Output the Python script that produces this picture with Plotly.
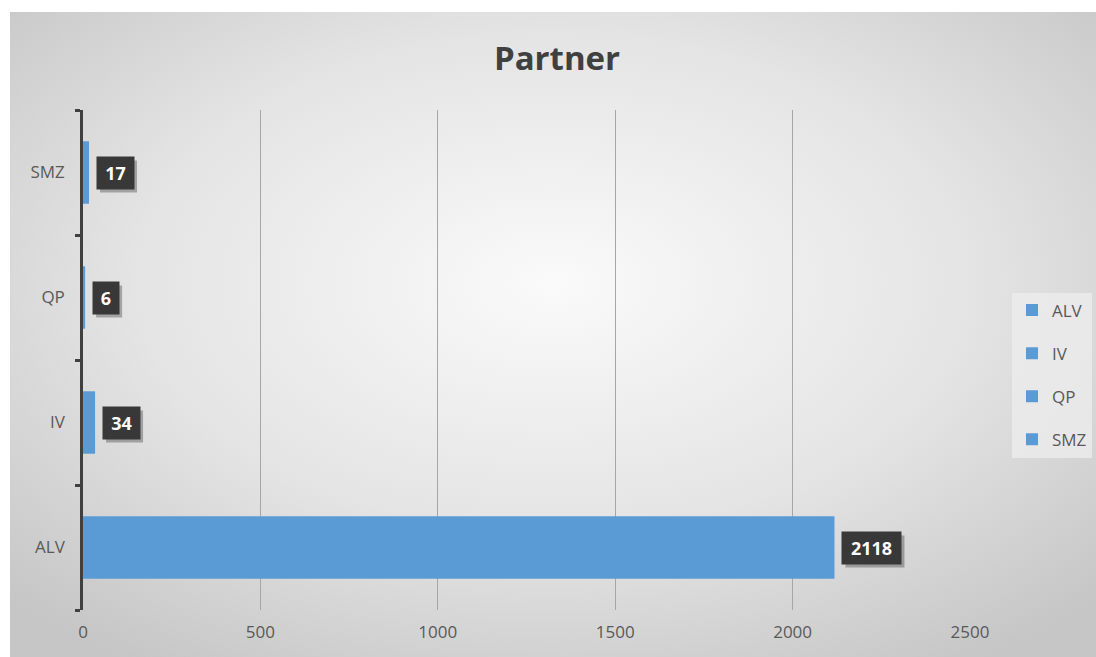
import base64
import plotly.graph_objects as go

# Partner counts
categories = ["ALV", "IV", "QP", "SMZ"]
values = [2118, 34, 6, 17]
x_ticks = [0, 500, 1000, 1500, 2000, 2500]

BAR_COLOR = "#5b9bd5"
TEXT_COLOR = "#595959"
FONT = "Open Sans"

W, H = 1096, 657
PLOT_L, PLOT_R, PLOT_T, PLOT_B = 83, 970, 110, 610
pw, ph = PLOT_R - PLOT_L, PLOT_B - PLOT_T

fig = go.Figure()
for cat, val in zip(categories, values):
    fig.add_trace(go.Bar(
        x=[val], y=[cat], orientation="h", name=cat,
        marker=dict(color=BAR_COLOR, line=dict(width=0)),
        width=0.5, legendgroup=cat, showlegend=True,
    ))

# value callouts: dark boxes with a soft drop shadow
GAP, PAD, BOX_H = 7, 6, 20
for cat, val in zip(categories, values):
    txt = str(val)
    inner_w = 11 * len(txt) + 3
    box_w = inner_w + 2 * PAD
    box_h = BOX_H + 2 * PAD
    fig.add_shape(
        type="rect", xref="x", yref="y",
        xsizemode="pixel", ysizemode="pixel", xanchor=val, yanchor=cat,
        x0=GAP + 4, x1=GAP + 4 + box_w, y0=-box_h / 2 - 4, y1=box_h / 2 - 4,
        fillcolor="rgba(0,0,0,0.28)", line=dict(width=0), layer="above",
    )
    fig.add_annotation(
        x=val, y=cat, xref="x", yref="y", text=f"<b>{txt}</b>",
        showarrow=False, xanchor="left", xshift=GAP,
        width=inner_w, height=BOX_H, align="center", valign="middle",
        font=dict(family=FONT, size=18, color="white"),
        bgcolor="#383838", borderpad=PAD,
    )

# soft radial background for the chart area
svg = (
    '<svg xmlns="http://www.w3.org/2000/svg" width="1086" height="645" '
    'preserveAspectRatio="none" viewBox="0 0 1086 645">'
    '<defs><radialGradient id="g" cx="50%" cy="42%" r="70%">'
    '<stop offset="0%" stop-color="#fafafa"/>'
    '<stop offset="55%" stop-color="#e4e4e4"/>'
    '<stop offset="100%" stop-color="#c6c6c6"/>'
    '</radialGradient></defs>'
    '<rect width="1086" height="645" fill="url(#g)"/></svg>'
)
src = "data:image/svg+xml;base64," + base64.b64encode(svg.encode()).decode()
fig.add_layout_image(
    source=src, xref="paper", yref="paper",
    x=(10 - PLOT_L) / pw, y=(PLOT_B - 12) / ph,
    sizex=(W - 10) / pw, sizey=(H - 12) / ph,
    xanchor="left", yanchor="top", sizing="stretch", layer="below",
)

fig.update_layout(
    width=W, height=H,
    margin=dict(l=PLOT_L, r=W - PLOT_R, t=PLOT_T, b=H - PLOT_B, autoexpand=False),
    paper_bgcolor="white", plot_bgcolor="rgba(0,0,0,0)",
    barmode="overlay",
    font=dict(family=FONT, color=TEXT_COLOR, size=17),
    title=dict(
        text="<b>Partner</b>", x=557 / W, xanchor="center",
        y=1 - 58 / H, yanchor="middle",
        font=dict(family=FONT, size=33, color="#404040"),
    ),
    xaxis=dict(
        range=[0, 2500], tickvals=x_ticks, ticktext=[str(t) for t in x_ticks],
        showgrid=True, gridcolor="#a6a6a6", gridwidth=1,
        zeroline=False, showline=False, ticks="",
        tickfont=dict(family=FONT, size=17, color=TEXT_COLOR), ticklabelstandoff=10,
    ),
    yaxis=dict(
        categoryorder="array", categoryarray=categories,
        range=[-0.5, 3.5], showgrid=False, zeroline=False,
        showline=True, linecolor="#404040", linewidth=2.5,
        ticks="outside", tickson="boundaries", ticklen=5,
        tickcolor="#404040", tickwidth=2.5,
        tickfont=dict(family=FONT, size=17, color=TEXT_COLOR), ticklabelstandoff=12,
    ),
    legend=dict(
        x=(1092 - PLOT_L) / pw, xanchor="right",
        y=(PLOT_B - 375) / ph, yanchor="middle",
        traceorder="grouped", tracegroupgap=18,
        bgcolor="rgba(236,236,236,0.8)",
        font=dict(family=FONT, size=17, color=TEXT_COLOR),
        itemwidth=30,
    ),
    showlegend=True,
)

fig.write_html("out.html")
